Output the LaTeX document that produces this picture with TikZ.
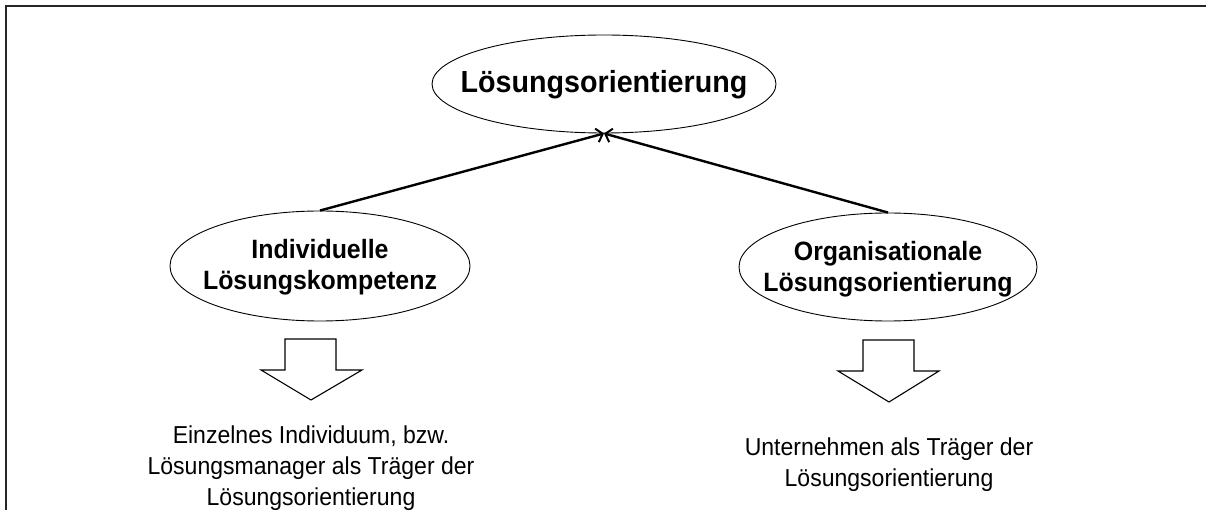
\documentclass[tikz,border=0pt]{standalone}
\usepackage{fontspec}
\setmainfont{Liberation Sans}
\newfontfamily\condfont[FakeStretch=0.94]{Liberation Sans}
\usetikzlibrary{arrows.meta,shapes.geometric}
\begin{document}
\begin{tikzpicture}[x=1pt,y=-1pt,
  oval/.style={draw, ellipse, line width=0.9pt, inner sep=0pt},
  boldtxt/.style={font=\condfont\fontsize{26.5}{31}\selectfont\bfseries, inner sep=0pt, anchor=base},
  toptxt/.style={font=\condfont\fontsize{30.5}{35}\selectfont\bfseries, inner sep=0pt, anchor=base},
  plaintxt/.style={font=\condfont\fontsize{24.5}{30}\selectfont, inner sep=0pt, anchor=base},
  conn/.style={line width=2.4pt, -{Straight Barb[length=6pt,width=14pt,line width=2pt]}},
  blockarrow/.style={draw, line width=1.1pt, fill=white, line join=miter},
  frame/.style={line width=2pt, draw=black!85}
]
\useasboundingbox (0,0) rectangle (1206,510);
% frame
\draw[frame] (6,510) -- (6,6) -- (1206,6);

% ellipses
\node[oval, minimum width=344pt, minimum height=98pt] (top) at (604,84) {};
\node[oval, minimum width=300pt, minimum height=110pt] (indiv) at (320,266) {};
\node[oval, minimum width=298pt, minimum height=108pt] (org) at (888,267) {};

% ellipse texts
\node[toptxt] (topT) at (604,93) {Lösungsorientierung};
\node[boldtxt] (indivA) at (320,259) {Individuelle};
\node[boldtxt] (indivB) at (320,290) {Lösungskompetenz};
\node[boldtxt] (orgA) at (888,261) {Organisationale};
\node[boldtxt] (orgB) at (888,292) {Lösungsorientierung};

% connectors
\draw[conn] (indiv.north) -- (top.south);
\draw[conn] (org.north) -- (top.south);

% block arrows
\draw[blockarrow] (285,339) -- (336,339) -- (336,370) -- (362,370) -- (311,400) -- (261,370) -- (285,370) -- cycle;
\draw[blockarrow] (863,340) -- (914,340) -- (914,371) -- (939,371) -- (889,402) -- (838,371) -- (863,371) -- cycle;

% bottom texts
\node[plaintxt] (leftA) at (311,443) {Einzelnes Individuum, bzw.};
\node[plaintxt] (leftB) at (311,474) {Lösungsmanager als Träger der};
\node[plaintxt] (leftC) at (311,505) {Lösungsorientierung};
\node[plaintxt] (rightA) at (889,455) {Unternehmen als Träger der};
\node[plaintxt] (rightB) at (889,486) {Lösungsorientierung};
\end{tikzpicture}
\end{document}
